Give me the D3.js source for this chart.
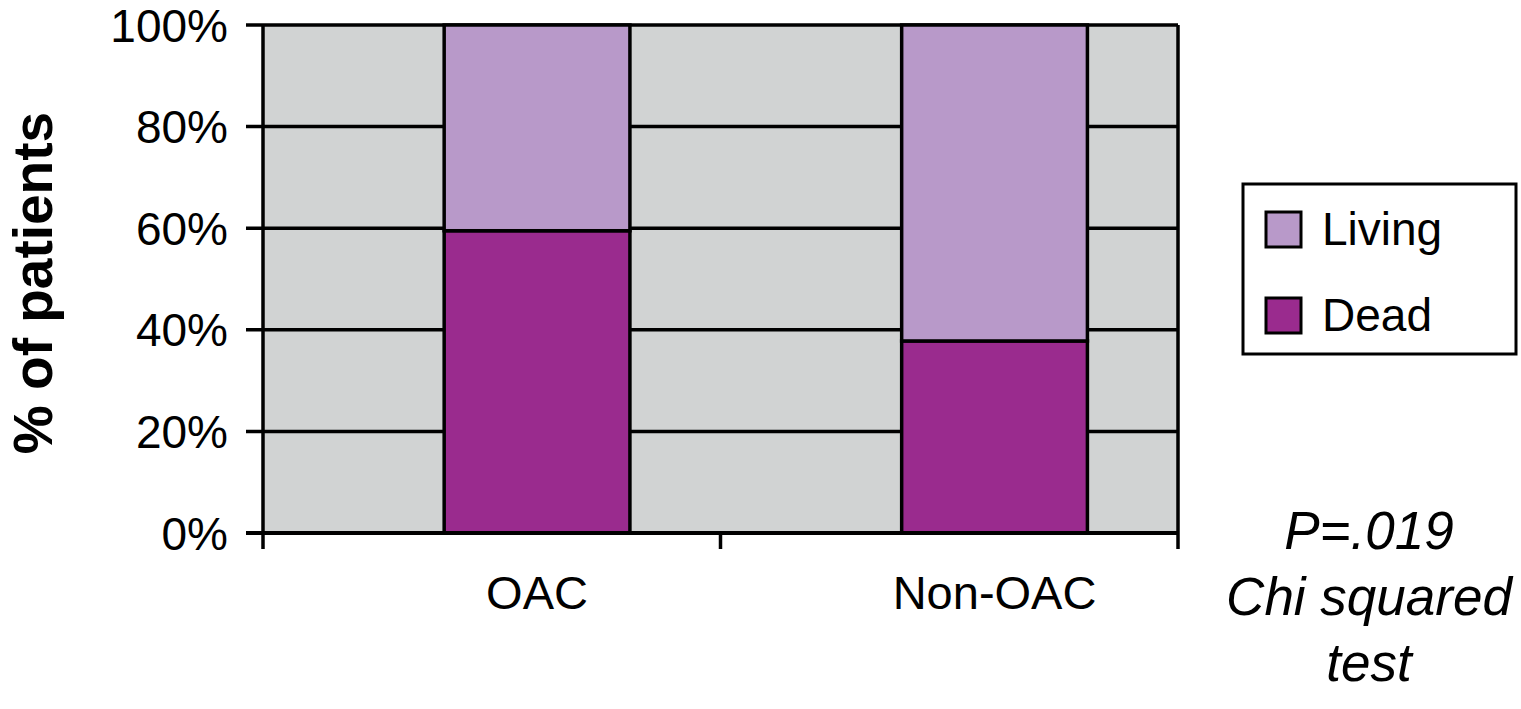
<!DOCTYPE html>
<html lang="en">
<head>
  <meta charset="UTF-8">
  <title>OAC vs Non-OAC outcome</title>
  <script src="https://d3js.org/d3.v7.min.js"></script>
  <style>
    body, html {
      margin: 0;
      padding: 0;
      background: #fff;
      overflow: hidden;
    }
    svg {
      display: block;
      font-family: "Liberation Sans", Arial, Helvetica, sans-serif;
    }
  </style>
</head>
<body>
  <svg id="chart" width="1521" height="709"></svg>

  <script>
    // chart data
    const categories = ["OAC", "Non-OAC"];
    const series = ["Dead", "Living"];
    const deadPct = [59.5, 37.8];
    const livingPct = [40.5, 62.2];
    const yTicks = [0, 20, 40, 60, 80, 100];
    const legendLabels = ["Living", "Dead"];
    const noteLines = ["P=.019", "Chi squared", "test"];

    const colors = { Living: "#b899c9", Dead: "#9a2b8e" };

    const svg = d3.select("#chart");
    const margin = { left: 263, right: 343, top: 25, bottom: 176 };
    const width = 1521, height = 709;

    const x = d3.scaleBand()
      .domain(categories)
      .range([margin.left, width - margin.right]);

    const y = d3.scaleLinear()
      .domain([0, 100])
      .range([height - margin.bottom, margin.top]);

    // bars sit a little right of centre in each band
    const barOffset = x.bandwidth() * 0.396;
    const barWidth = x.bandwidth() * 0.406;

    // plot background
    svg.append("rect")
      .attr("x", margin.left)
      .attr("y", y(100))
      .attr("width", x.range()[1] - margin.left)
      .attr("height", y(0) - y(100))
      .attr("fill", "#d1d3d3");

    // gridlines + y ticks
    svg.append("g")
      .selectAll("line")
      .data(yTicks)
      .join("line")
      .attr("x1", margin.left - 17)
      .attr("x2", x.range()[1])
      .attr("y1", d => y(d))
      .attr("y2", d => y(d))
      .attr("stroke", "#000")
      .attr("stroke-width", 3.5);

    svg.append("g")
      .selectAll("text")
      .data(yTicks)
      .join("text")
      .attr("x", 228)
      .attr("y", d => y(d))
      .attr("dy", "0.36em")
      .attr("text-anchor", "end")
      .attr("font-size", 46)
      .text(d => d + "%");

    // stacked bars
    const rows = categories.map((c, i) => ({ cat: c, Dead: deadPct[i], Living: livingPct[i] }));
    const stacked = d3.stack().keys(series)(rows);

    svg.append("g")
      .selectAll("g")
      .data(stacked)
      .join("g")
      .attr("fill", d => colors[d.key])
      .selectAll("rect")
      .data(d => d)
      .join("rect")
      .attr("x", d => x(d.data.cat) + barOffset)
      .attr("y", d => y(d[1]))
      .attr("width", barWidth)
      .attr("height", d => y(d[0]) - y(d[1]))
      .attr("stroke", "#000")
      .attr("stroke-width", 3.5);

    // frame: left and right edges, bottom axis
    const right = x.range()[1];
    svg.append("line")
      .attr("x1", margin.left).attr("x2", margin.left)
      .attr("y1", y(100)).attr("y2", y(0) + 16)
      .attr("stroke", "#000").attr("stroke-width", 3.5);
    svg.append("line")
      .attr("x1", right).attr("x2", right)
      .attr("y1", y(100)).attr("y2", y(0) + 16)
      .attr("stroke", "#000").attr("stroke-width", 3.5);
    svg.append("line")
      .attr("x1", margin.left - 17).attr("x2", right)
      .attr("y1", y(0)).attr("y2", y(0))
      .attr("stroke", "#000").attr("stroke-width", 4);

    // x tick mark between categories
    svg.append("line")
      .attr("x1", x(categories[1])).attr("x2", x(categories[1]))
      .attr("y1", y(0)).attr("y2", y(0) + 16)
      .attr("stroke", "#000").attr("stroke-width", 3.5);

    // category labels, centred under the bars
    svg.append("g")
      .selectAll("text")
      .data(categories)
      .join("text")
      .attr("x", d => x(d) + barOffset + barWidth / 2)
      .attr("y", 609)
      .attr("text-anchor", "middle")
      .attr("font-size", 47)
      .text(d => d);

    // y axis title
    svg.append("text")
      .attr("transform", "translate(52,283) rotate(-90)")
      .attr("text-anchor", "middle")
      .attr("font-size", 55)
      .attr("font-weight", "bold")
      .text("% of patients");

    // legend
    const legend = svg.append("g");
    legend.append("rect")
      .attr("x", 1243).attr("y", 184)
      .attr("width", 273).attr("height", 170)
      .attr("fill", "#fff")
      .attr("stroke", "#000")
      .attr("stroke-width", 3);

    const legendItems = legend.selectAll("g")
      .data(legendLabels)
      .join("g")
      .attr("transform", (d, i) => `translate(1266,${212 + i * 86})`);

    legendItems.append("rect")
      .attr("width", 35).attr("height", 35)
      .attr("fill", d => colors[d])
      .attr("stroke", "#000")
      .attr("stroke-width", 3);

    legendItems.append("text")
      .attr("x", 56)
      .attr("y", 33)
      .attr("font-size", 46)
      .text(d => d);

    // statistics note
    svg.append("g")
      .selectAll("text")
      .data(noteLines)
      .join("text")
      .attr("x", 1369)
      .attr("y", (d, i) => 549 + i * 66)
      .attr("text-anchor", "middle")
      .attr("font-size", 53)
      .attr("font-style", "italic")
      .text(d => d);
  </script>
</body>
</html>
